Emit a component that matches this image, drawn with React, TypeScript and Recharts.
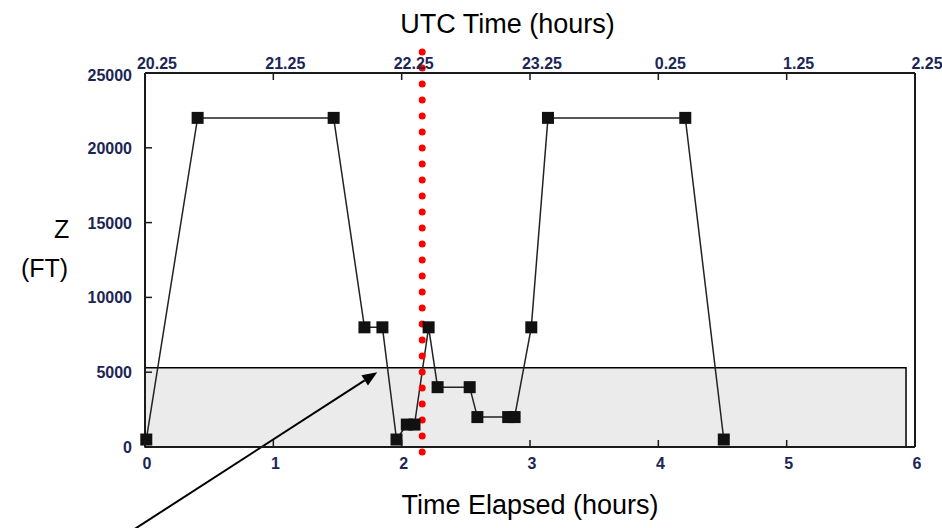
import React from "react";
import {
  LineChart,
  Line,
  XAxis,
  YAxis,
  ReferenceArea,
  ReferenceLine,
} from "recharts";

// flight track: elapsed hours vs altitude (ft)
const elapsedHours = [0.01, 0.41, 1.47, 1.71, 1.85, 1.96, 2.04, 2.1, 2.21, 2.28, 2.53, 2.59, 2.83, 2.88, 3.01, 3.14, 4.21, 4.51];
const altitudeFt = [500, 22000, 22000, 8000, 8000, 500, 1500, 1500, 8000, 4000, 4000, 2000, 2000, 2000, 8000, 22000, 22000, 500];

const elapsedTicks = [0, 1, 2, 3, 4, 5, 6];
const utcLabels = ["20.25", "21.25", "22.25", "23.25", "0.25", "1.25", "2.25"];
const altitudeTicks = [0, 5000, 10000, 15000, 20000, 25000];

// shaded low-altitude band and the marked time
const bandTop = 5300;
const bandEnd = 5.93;
const markerTime = 2.16;

const data = elapsedHours.map((t, i) => ({ t, z: altitudeFt[i] }));

const TICK_COLOR = "#1c2654";
const FRAME = "#1a1a1a";
const TICK_FONT = "Liberation Sans, Arial, sans-serif";
const TITLE_FONT = "'Liberation Sans', Arial, sans-serif";

function BottomTick({ x, y, payload }: any) {
  return (
    <g>
      <line x1={x} y1={y} x2={x} y2={y - 7} stroke={FRAME} strokeWidth={1.5} />
      <text x={x + 2} y={y + 22} textAnchor="middle" fontSize={16} fontWeight="bold" fontFamily={TICK_FONT} fill={TICK_COLOR}>
        {payload.value}
      </text>
    </g>
  );
}

function TopTick({ x, y, index }: any) {
  return (
    <g>
      <line x1={x} y1={y} x2={x} y2={y + 7} stroke={FRAME} strokeWidth={1.5} />
      <text x={x + 12} y={y - 4} textAnchor="middle" fontSize={16} fontWeight="bold" fontFamily={TICK_FONT} fill={TICK_COLOR}>
        {utcLabels[index] ?? ""}
      </text>
    </g>
  );
}

function LeftTick({ x, y, payload }: any) {
  return (
    <g>
      <line x1={x} y1={y} x2={x + 7} y2={y} stroke={FRAME} strokeWidth={1.5} />
      <text x={x - 13} y={y + 6 + (payload.value === 25000 ? 2 : 0)} textAnchor="end" fontSize={16} fontWeight="bold" fontFamily={TICK_FONT} fill={TICK_COLOR}>
        {payload.value}
      </text>
    </g>
  );
}

function SquareDot({ cx, cy, index }: any) {
  if (cx == null || cy == null) return null;
  return <rect key={index} x={cx - 6} y={cy - 6} width={12} height={12} fill="#111" />;
}

function Arrow(p: any) {
  const { x1, y1, x2, y2 } = p;
  const ang = Math.atan2(y2 - y1, x2 - x1);
  const len = 15;
  const half = 6;
  const bx = x2 - len * Math.cos(ang);
  const by = y2 - len * Math.sin(ang);
  const px = -Math.sin(ang) * half;
  const py = Math.cos(ang) * half;
  return (
    <g>
      <line x1={x1} y1={y1} x2={bx} y2={by} stroke="#000" strokeWidth={2} />
      <polygon points={`${x2},${y2} ${bx + px},${by + py} ${bx - px},${by - py}`} fill="#000" />
    </g>
  );
}

export default function App() {
  return (
    <div style={{ position: "absolute", left: 0, top: 0, width: 942, height: 528, background: "#fff", overflow: "hidden" }}>
      <LineChart
        width={942}
        height={528}
        data={data}
        margin={{ top: 43, right: 27, bottom: 51, left: 85 }}
        style={{ position: "absolute", left: 0, top: 0 }}
      >
        <ReferenceArea
          x1={0}
          x2={bandEnd}
          y1={0}
          y2={bandTop}
          fill="#ebebeb"
          fillOpacity={1}
          stroke="#000"
          strokeWidth={1.5}
          ifOverflow="visible"
        />
        <XAxis
          dataKey="t"
          type="number"
          domain={[0, 6]}
          ticks={elapsedTicks}
          height={30}
          tickSize={0}
          tickMargin={0}
          tickLine={false}
          axisLine={{ stroke: FRAME, strokeWidth: 2 }}
          tick={<BottomTick />}
          interval={0}
        />
        <XAxis
          xAxisId="utc"
          orientation="top"
          type="number"
          dataKey="t"
          domain={[0, 6]}
          ticks={elapsedTicks}
          height={30}
          tickSize={0}
          tickMargin={0}
          tickLine={false}
          axisLine={{ stroke: FRAME, strokeWidth: 2 }}
          tick={<TopTick />}
          interval={0}
        />
        <YAxis
          type="number"
          domain={[0, 25000]}
          ticks={altitudeTicks}
          width={60}
          tickSize={0}
          tickMargin={0}
          tickLine={false}
          axisLine={{ stroke: FRAME, strokeWidth: 2 }}
          tick={<LeftTick />}
          interval={0}
        />
        <ReferenceLine x={6} stroke={FRAME} strokeWidth={2} />
        <Line
          dataKey="z"
          type="linear"
          stroke="#222"
          strokeWidth={1.5}
          dot={<SquareDot />}
          activeDot={false}
          isAnimationActive={false}
        />
        <ReferenceLine
          segment={[{ x: markerTime, y: 26400 }, { x: markerTime, y: -350 }]}
          stroke="#ff0000"
          strokeWidth={7}
          strokeDasharray="0 16"
          strokeLinecap="round"
          ifOverflow="visible"
        />
        <ReferenceLine
          segment={[{ x: -0.12, y: -5700 }, { x: 1.81, y: 5000 }]}
          ifOverflow="visible"
          shape={<Arrow />}
        />
      </LineChart>
      <div style={{ position: "absolute", left: 0, width: 1015, top: 8, textAlign: "center", fontFamily: TITLE_FONT, fontSize: 27, lineHeight: "32px", color: "#000" }}>
        UTC Time (hours)
      </div>
      <div style={{ position: "absolute", left: 0, width: 1060, top: 489, textAlign: "center", fontFamily: TITLE_FONT, fontSize: 27, lineHeight: "32px", color: "#000" }}>
        Time Elapsed (hours)
      </div>
      <div style={{ position: "absolute", left: 54, top: 214, fontFamily: TITLE_FONT, fontSize: 25, lineHeight: "30px", color: "#000" }}>Z</div>
      <div style={{ position: "absolute", left: 21, top: 253, fontFamily: TITLE_FONT, fontSize: 25, lineHeight: "30px", color: "#000" }}>(FT)</div>
    </div>
  );
}
